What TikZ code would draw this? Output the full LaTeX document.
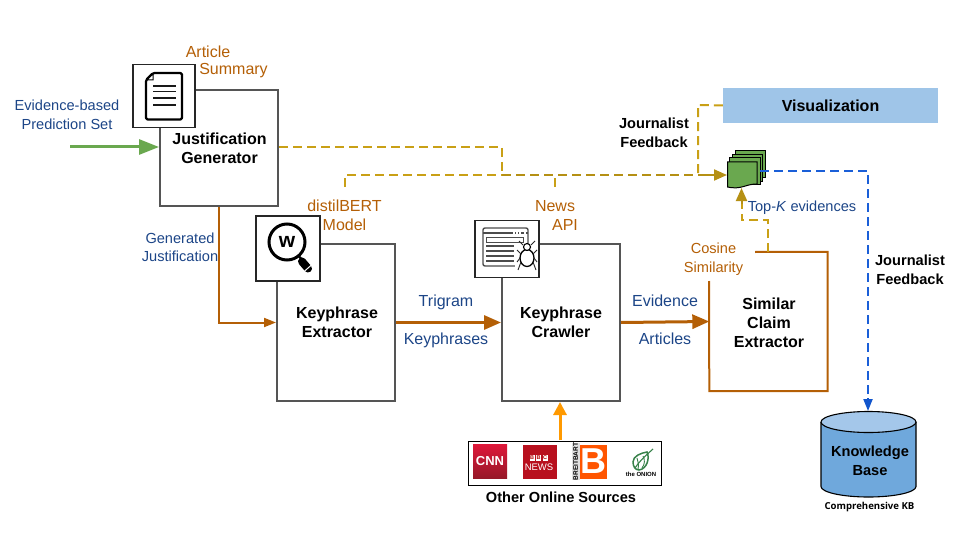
\documentclass[tikz,border=0pt]{standalone}
\usepackage{fontspec}
\setmainfont{Liberation Sans}
\newfontfamily\kbfont{Open Sans}
\usetikzlibrary{arrows.meta,calc}
\definecolor{brn}{HTML}{B45F06}
\definecolor{navy}{HTML}{1C4587}
\definecolor{gold}{HTML}{C9A016}
\definecolor{grn}{HTML}{6AA84F}
\definecolor{blu}{HTML}{1A5FD8}
\definecolor{blueh}{HTML}{1155CC}
\definecolor{amber}{HTML}{FF9900}
\definecolor{sky}{HTML}{9FC5E8}
\definecolor{kb}{HTML}{6FA8DC}
\definecolor{kbtop}{HTML}{A4C7EA}
\definecolor{boxgr}{HTML}{555555}
\definecolor{onion}{HTML}{38824A}
\tikzset{
 x=1pt,y=-1pt,
 lab/.style={align=center,font=\fontsize{16}{19}\selectfont,inner sep=0pt},
 slab/.style={align=center,font=\fontsize{14.6}{19}\selectfont,inner sep=0pt},
 brnlab/.style={lab,text=brn},
 navylab/.style={lab,text=navy},
 blab/.style={align=center,font=\fontsize{16}{19}\selectfont\bfseries,inner sep=0pt},
 sblab/.style={align=center,font=\fontsize{14.6}{19}\selectfont\bfseries,inner sep=0pt},
 procbox/.style={draw=boxgr,line width=2pt,fill=white,minimum width=#1,inner sep=0pt},
 iconbox/.style={draw=black!85,line width=1.1pt,fill=white,inner sep=0pt},
 thin arrow/.style={-{Triangle[length=12pt,width=9pt]},draw=brn,line width=2pt},
 thick arrow/.style={-{Triangle[length=17pt,width=14pt]},draw=brn,line width=3pt},
 golddash/.style={draw=gold,line width=2pt,dash pattern=on 9pt off 5pt},
 goldhead/.style={-{Triangle[length=13pt,width=11pt]},draw=gold!90!black,line width=2pt},
 logo/.style={inner sep=0pt,minimum width=34pt,minimum height=34pt},
 bbcbox/.style={fill=white,text=red!70!black,inner sep=0pt,minimum width=5pt,minimum height=6.5pt,font=\fontsize{5.5}{6}\selectfont\bfseries},
}
\begin{document}
\begin{tikzpicture}
\useasboundingbox (0,0) rectangle (960,540);
% process boxes
\node[procbox=118pt,minimum height=116pt] (jg) at (219,148) {};
\node[procbox=118pt,minimum height=157pt] (ke) at (336,322.5) {};
\node[procbox=118pt,minimum height=157pt] (kc) at (561,322.5) {};
\node[minimum width=118pt,minimum height=139pt,inner sep=0pt] (sce) at (768.5,321.5) {};
\draw[brn,line width=2pt] (755,252) coordinate (scestart) -- (sce.north east) -- (sce.south east) -- (sce.south west) -- (709,281);
% texts in boxes
\node[blab] (jgt) at (219.5,148) {Justification\\Generator};
\node[blab] (ket) at (337,322.5) {Keyphrase\\Extractor};
\node[blab] (kct) at (561,322.5) {Keyphrase\\Crawler};
\node[blab] (scet) at (769,322.5) {Similar\\Claim\\Extractor};
% visualisation
\node[fill=sky,minimum width=215pt,minimum height=35pt,inner sep=0pt,font=\fontsize{16}{17}\selectfont\bfseries] (vis) at (830.5,105.5) {Visualization};
% coordinates for the dashed runs
\coordinate (j1) at (502,147);
\coordinate (j2) at (502,175);
\coordinate (d1) at (345,187);
\coordinate (d2) at (345,175);
\coordinate (n1) at (554.5,187);
\coordinate (n2) at (554.5,178);
\coordinate (v1) at (698,105);
\coordinate (v2) at (698,175);
\coordinate (stk) at (727,175);
% connectors
\coordinate (gs) at (70,147);
\draw[-{Triangle[length=20pt,width=15pt]},grn,line width=3pt] (gs) -- (jg.west |- gs);
\draw[thin arrow] (jg.south) -- (jg.south |- ke.west) -- (ke.west);
\draw[thick arrow] (ke.east) -- (kc.west);
\draw[thick arrow] (kc.east) -- (sce.west);
\draw[golddash] (jg.east |- j1) -- (j1) -- (j2);
\draw[golddash] (d1) -- (d2) -- (j2);
\draw[golddash,draw=gold!90!black,line width=2.6pt] (j2) -- (v2);
\draw[golddash] (n1) -- (n2);
\draw[golddash] (vis.west) -- (v1) -- (v2);
\draw[goldhead] (v2) -- (stk);
% stack of sheets
\foreach \lx/\ty/\rx in {735/150/765,732/154/762,729/157/760}{
 \draw[black,fill=grn,line width=.9pt] (\lx,\ty) rectangle (\rx,\ty+27);
}
\draw[black,fill=grn,line width=1pt] (727.5,162) coordinate (front) -- (757,162) -- (757,184) .. controls (745,184) and (742,190) .. (727.5,187) -- cycle;
% cosine dashed
\coordinate (c1) at (768,220);
\coordinate (c2) at (741.5,220);
\coordinate (c3) at (741.5,188);
\draw[golddash] (768,252) -- (c1) -- (c2) -- (741.5,202);
\draw[goldhead] (741.5,204) -- (c3);
% blue dashed
\coordinate (b0) at (760,171);
\coordinate (b1) at (868,171);
\node[draw=none,inner sep=0pt,minimum width=95pt,minimum height=85pt] (kbn) at (868.5,454.5) {};
\draw[blu,line width=2pt,dash pattern=on 9pt off 5pt] (b0) -- (b1) -- (868,398);
\draw[-{Triangle[length=12pt,width=9pt]},blueh,line width=2pt] (868,398) -- (868,411);
% cylinder
\draw[black,fill=kb,line width=1.1pt] (821,422) -- (821,486.5) arc[start angle=180,end angle=0,x radius=47.5,y radius=10.5] -- (916,422);
\draw[black,fill=kbtop,line width=1.1pt] (868.5,422) ellipse[x radius=47.5,y radius=10.5];
\node[sblab] (kbt) at (870,461) {Knowledge\\Base};
\node[inner sep=0pt,font=\kbfont\fontsize{9.6}{12}\selectfont\bfseries] (kbc) at (869.5,507) {Comprehensive KB};
% sources
\node[draw=black,line width=.9pt,fill=white,minimum width=193pt,minimum height=44pt,inner sep=0pt] (src) at (564.5,463) {};
\coordinate (sup) at (560,440);
\draw[-{Triangle[length=13pt,width=13pt]},amber,line width=3pt] (sup) -- (sup |- kc.south);
\node[logo,top color={rgb,255:red,222;green,24;blue,58},bottom color={rgb,255:red,150;green,24;blue,40},text=white,font=\fontsize{13}{13}\selectfont\bfseries] (cnn) at (490,461.5) {CNN};
\node[logo,fill={rgb,255:red,184;green,16;blue,30},text=white,align=center,font=\fontsize{9.5}{10}\selectfont] (bbc) at (540,461.5) {};
\node[bbcbox] (bb1) at (532,458) {B};
\node[bbcbox] (bb2) at (538.5,458) {B};
\node[bbcbox] (bb3) at (545,458) {C};
\node[inner sep=0pt,text=white,font=\fontsize{9.5}{10}\selectfont] (bbn) at (539,467) {NEWS};
\node[logo,minimum width=27pt,fill={rgb,255:red,255;green,85;blue,0},text=white,font=\fontsize{36}{36}\selectfont\bfseries] (bb) at (593.5,461.5) {B};
\node[inner sep=0pt,minimum width=8pt,minimum height=34pt,fill=black!12,anchor=east,font=\fontsize{6.5}{6.5}\selectfont\bfseries] (bbs) at (bb.west) {\rotatebox{90}{BREITBART}};
\begin{scope}[shift={(641,460)}]
 \draw[draw=onion,line width=1.5pt,fill=white] (-8,2) .. controls (-8,-4) and (0,-7) .. (6,-8) .. controls (9,-2) and (6,9) .. (-2,10) .. controls (-6,10) and (-8,6) .. (-8,2) -- cycle;
 \draw[draw=onion,line width=1.1pt] (-6,8) .. controls (-3,3) and (3,-3) .. (12,-11);
 \draw[draw=onion,line width=.9pt] (-4,-2) .. controls (-3,2) and (-2,5) .. (-3,9) (2,-4) .. controls (4,0) and (4,4) .. (1,8);
\end{scope}
\node[inner sep=0pt,font=\fontsize{6}{6}\selectfont\bfseries] (onionn) at (641,474) {the ONION};
\node[inner sep=0pt,font=\fontsize{14.6}{17}\selectfont\bfseries] (srct) at (561,497) {Other Online Sources};
% icon: document
\node[iconbox,minimum width=62pt,minimum height=63pt] (idoc) at (164,96) {};
\begin{scope}[shift={(idoc.center)}]
 \draw[black,line width=2.2pt,line join=round,rounded corners=1.5pt] (-11,-23) -- (18,-23) -- (18,23.5) -- (-18,23.5) -- (-18,-16) -- cycle;
 \draw[black,line width=1pt,fill=white] (-11,-22) -- (-11,-16) -- (-17,-16) -- cycle;
 \foreach \yy in {-10,-4.3,2,9}{\draw[black!90,line width=1.6pt] (-11,\yy) -- (12,\yy);}
\end{scope}
% icon: magnifier
\node[iconbox,minimum width=64pt,minimum height=65pt] (iw) at (288,248.5) {};
\begin{scope}[shift={(iw.center)}]
 \draw[black,line width=3pt] (-1,-6.5) circle[radius=18];
 \node[inner sep=0pt,font=\fontsize{21}{21}\selectfont\bfseries] (wl) at (-1,-6.5) {w};
 \draw[black,line width=2.2pt] (11,8) -- (15,12);
 \draw[black,line width=8pt,line cap=round] (14,13) -- (20,20);
 \draw[white,line width=1pt] (15,24) -- (24,16);
\end{scope}
% icon: crawler
\node[iconbox,minimum width=64pt,minimum height=57pt] (icr) at (507,249) {};
\begin{scope}[shift={(icr.center)}]
 \draw[black!70,line width=1.4pt,rounded corners=2pt] (-24,-21) rectangle (21,17);
 \draw[black!70,line width=1.8pt] (-24,-16) -- (21,-16);
 \foreach \xx in {6,9,12,17}{\fill[white] (\xx,-17.5) rectangle (\xx+1.5,-14.5);}
 \draw[black!70,line width=1pt] (-21,-12) rectangle (16,-7);
 \foreach \yy in {-3,2,7,12}{\draw[black!70,line width=1.6pt] (-21,\yy) -- (7,\yy);}
 \fill[white] (8,-4) rectangle (31,22);
 \draw[black,fill=white,line width=1.3pt] (20,9) ellipse[x radius=7,y radius=8.5];
 \draw[black,fill=white,line width=1.1pt] (20,-2) circle[radius=3.5];
 \draw[black!85,line width=.9pt] (14,5) -- (10,1) (26,5) -- (30,1) (13,9) -- (10,13) (27,9) -- (30,13) (14,13) -- (11,21) (26,13) -- (29,21) (16,-4) -- (12,-8) (24,-4) -- (28,-8);
\end{scope}
% labels
\node[slab,text=navy,font=\fontsize{14.6}{19}\selectfont] (ev) at (67,114.5) {Evidence-based\\Prediction Set};
\node[brnlab] (art1) at (208,51.5) {Article};
\node[brnlab] (art2) at (233.5,70.5) {Summary};
\node[brnlab] (dist) at (344.5,215.5) {distilBERT\\Model};
\node[brnlab] (news1) at (555,206) {News};
\node[brnlab] (news2) at (565,225) {API};
\node[slab,text=brn] (cos) at (713.5,259.5) {Cosine\\Similarity};
\node[slab,text=navy,font=\fontsize{14.6}{18}\selectfont] (gen) at (180,247) {Generated\\Justification};
\node[navylab] (tri) at (446,302) {Trigram};
\node[navylab] (kp) at (446,340.5) {Keyphrases};
\node[navylab] (evd) at (665,300.5) {Evidence};
\node[navylab] (arts) at (665,339) {Articles};
\node[slab,text=navy] (topk) at (802,208) {Top-\textit{K} evidences};
\node[sblab] (jf1) at (654,133) {Journalist\\Feedback};
\node[sblab] (jf2) at (910,270) {Journalist\\Feedback};
\end{tikzpicture}
\end{document}
